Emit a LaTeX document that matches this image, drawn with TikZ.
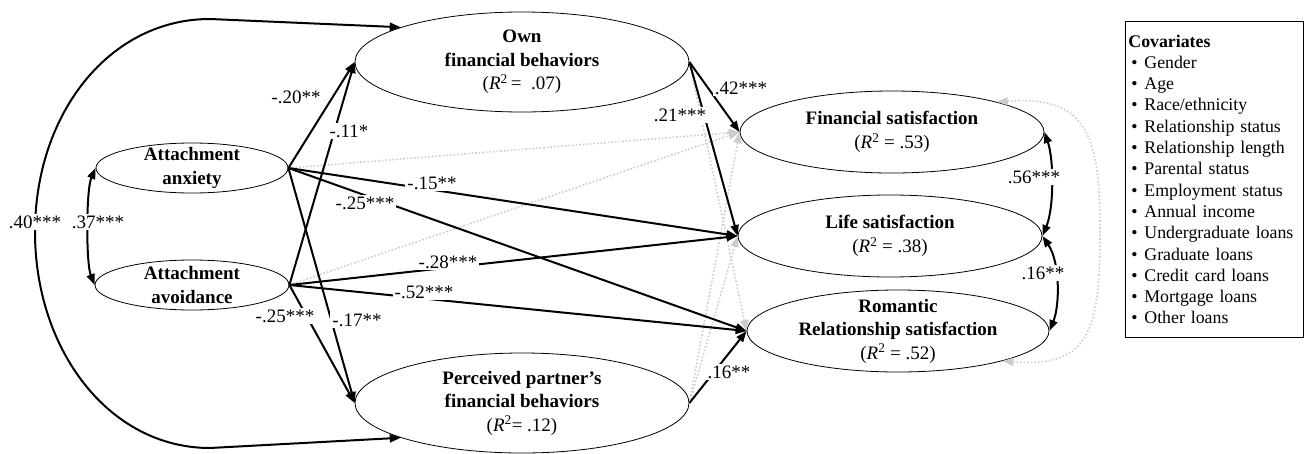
\documentclass[tikz,border=0pt]{standalone}
\usepackage{fontspec}
\setmainfont{Liberation Serif}
\usetikzlibrary{shapes.geometric,arrows.meta}
\newcommand{\rsq}[1]{{\mdseries(\textit{R}\textsuperscript{2}#1)}}
\begin{document}
\begin{tikzpicture}[x=1pt,y=-1pt,
  ell/.style={draw, ellipse, line width=0.8pt, inner sep=0pt},
  lbl/.style={font=\fontsize{19}{23.5}\selectfont\bfseries, align=center, inner sep=0pt},
  coef/.style={fill=white, inner sep=2pt, font=\fontsize{19}{22}\selectfont},
  blk/.style={line width=2pt, -{Triangle[length=11pt,width=8pt]}},
  blkb/.style={line width=2pt, {Triangle[length=11pt,width=8pt]}-{Triangle[length=11pt,width=8pt]}},
  gry/.style={gray!40, line width=1.6pt, dotted, -{Triangle[length=11pt,width=8pt]}},
  gryb/.style={gray!40, line width=1.6pt, dotted, {Triangle[length=11pt,width=8pt]}-{Triangle[length=11pt,width=8pt]}}
]
\useasboundingbox (0,0) rectangle (1304,453);

% ellipses
\node[ell, minimum width=192pt, minimum height=50pt, label={[lbl]center:Attachment\\anxiety}] (anx) at (192,168) {};
\node[ell, minimum width=194pt, minimum height=50pt, label={[lbl]center:Attachment\\avoidance}] (avo) at (192,285) {};
\node[ell, minimum width=334pt, minimum height=100pt, label={[lbl]center:Own\\financial behaviors\\\rsq{\,=\ \ .07}}] (own) at (522,62) {};
\node[ell, minimum width=334pt, minimum height=100pt, label={[lbl]center:Perceived partner’s\\financial behaviors\\\rsq{= .12}}] (pp) at (522,403) {};
\node[ell, minimum width=304pt, minimum height=82pt, label={[lbl]center:Financial satisfaction\\\rsq{ = .53}}] (fin) at (892,132) {};
\node[ell, minimum width=304pt, minimum height=82pt, label={[lbl]center:Life satisfaction\\\rsq{ = .38}}] (life) at (890,236) {};
\node[ell, minimum width=302pt, minimum height=82pt, label={[lbl]center:Romantic\\Relationship satisfaction\\\rsq{ = .52}}] (rom) at (898,331) {};

% covariates box
\node[draw, line width=0.8pt, anchor=north west, minimum height=316pt, text width=172pt, inner xsep=3pt, inner ysep=0pt, align=left, font=\fontsize{17.8}{21.3}\selectfont] (cov) at (1125,21) {\textbf{Covariates}\\
\hspace*{3pt}\makebox[13pt][l]{\textbullet}Gender\\
\hspace*{3pt}\makebox[13pt][l]{\textbullet}Age\\
\hspace*{3pt}\makebox[13pt][l]{\textbullet}Race/ethnicity\\
\hspace*{3pt}\makebox[13pt][l]{\textbullet}Relationship status\\
\hspace*{3pt}\makebox[13pt][l]{\textbullet}Relationship length\\
\hspace*{3pt}\makebox[13pt][l]{\textbullet}Parental status\\
\hspace*{3pt}\makebox[13pt][l]{\textbullet}Employment status\\
\hspace*{3pt}\makebox[13pt][l]{\textbullet}Annual income\\
\hspace*{3pt}\makebox[13pt][l]{\textbullet}Undergraduate loans\\
\hspace*{3pt}\makebox[13pt][l]{\textbullet}Graduate loans\\
\hspace*{3pt}\makebox[13pt][l]{\textbullet}Credit card loans\\
\hspace*{3pt}\makebox[13pt][l]{\textbullet}Mortgage loans\\
\hspace*{3pt}\makebox[13pt][l]{\textbullet}Other loans};

% grey dotted paths
\draw[gry] (anx.east) -- (fin.west);
\draw[gry] (avo.east) -- (fin.west);
\draw[gry] (pp.east) -- (fin.west);
\draw[gry] (pp.east) -- (life.west);
\draw[gry] (own.east) -- (rom.west);
\draw[gryb] (fin.16) .. controls (1090,95) and (1100,140) .. (1100,232) .. controls (1100,330) and (1090,368) .. (rom.-16);

% black paths
\draw[blk] (anx.east) -- (own.west);
\draw[blk] (anx.east) -- (pp.west);
\draw[blk] (anx.east) -- (life.west);
\draw[blk] (anx.east) -- (rom.west);
\draw[blk] (avo.east) -- (own.west);
\draw[blk] (avo.east) -- (pp.west);
\draw[blk] (avo.east) -- (life.west);
\draw[blk] (avo.east) -- (rom.west);
\draw[blk] (own.east) -- (fin.west);
\draw[blk] (own.east) -- (life.west);
\draw[blk] (pp.east) -- (rom.west);

% covariances
\draw[blkb] (own.164) -- (210,19) .. controls (109,19) and (35,114) .. (35,232) .. controls (35,350) and (109,448) .. (210,448) -- (pp.196);
\draw[blkb] (anx.west) .. controls (86,190) and (86,263) .. (avo.west);
\draw[blkb] (fin.east) .. controls (1054,160) and (1054,208) .. (life.east);
\draw[blkb] (life.east) .. controls (1060,262) and (1060,305) .. (rom.east);

% coefficients
\node[coef] (l40) at (35,222) {.40***};
\node[coef] (l37) at (98,222) {.37***};
\node[coef] (l20) at (296,97) {-.20**};
\node[coef] (l11) at (349,131) {-.11*};
\node[coef] (l15) at (432,183) {-.15**};
\node[coef] (l25a) at (365,203) {-.25***};
\node[coef] (l28) at (448,262) {-.28***};
\node[coef] (l52) at (424,292) {-.52***};
\node[coef] (l25b) at (285,316) {-.25***};
\node[coef] (l17) at (357,320) {-.17**};
\node[coef] (l42) at (741,88) {.42***};
\node[coef] (l21) at (680,115) {.21***};
\node[coef] (l16a) at (729,372) {.16**};
\node[coef] (l56) at (1034,177) {.56***};
\node[coef] (l16b) at (1043,273) {.16**};
\end{tikzpicture}
\end{document}
